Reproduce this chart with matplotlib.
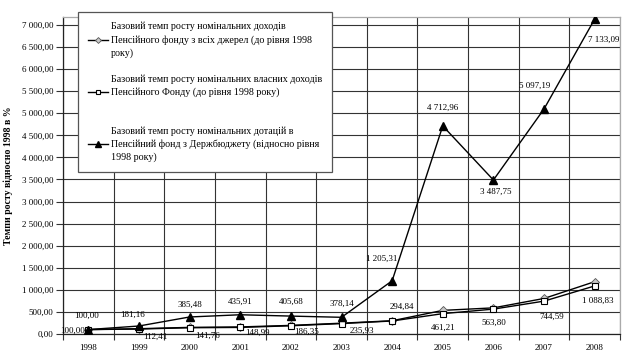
import matplotlib
matplotlib.use('Agg')
import matplotlib.pyplot as plt
from matplotlib.ticker import FuncFormatter, FixedLocator

plt.rcParams['font.family'] = ['Liberation Serif', 'DejaVu Serif']

years = ['1998', '1999', '2000', '2001', '2002', '2003', '2004', '2005', '2006', '2007', '2008']
# all sources (diamonds), own income (squares), state budget subsidies (triangles)
all_sources = [100.00, 120.0, 150.0, 160.0, 195.0, 245.0, 300.0, 535.0, 592.0, 805.0, 1185.0]
own_income = [100.00, 112.41, 141.76, 148.99, 186.35, 235.93, 294.84, 461.21, 563.80, 744.59, 1088.83]
subsidies = [100.00, 181.16, 385.48, 435.91, 405.68, 378.14, 1205.31, 4712.96, 3487.75, 5097.19, 7133.09]

legend_labels = [
    'Базовий темп росту номінальних доходів\nПенсійного фонду з всіх джерел (до рівня 1998\nроку)',
    'Базовий темп росту номінальних власних доходів\nПенсійного Фонду (до рівня 1998 року)\n',
    'Базовий темп росту номінальних дотацій в\nПенсійний фонд з Держбюджету (відносно рівня\n1998 року)',
]
y_label = 'Темпи росту відносно 1998 в %'

# label offsets in pixels (dx, dy, ha)
own_offsets = [(-2, 14, 'center'), (16, -8, 'center'), (18, -8, 'center'), (17, -5, 'center'),
               (16, -6, 'center'), (20, -7, 'center'), (10, 14, 'center'), (0, -14, 'center'),
               (0, -14, 'center'), (8, -16, 'center'), (3, -15, 'center')]
sub_offsets = [(-3, -1, 'right'), (-6, 11, 'center'), (0, 12, 'center'), (0, 13, 'center'),
               (0, 14, 'center'), (0, 13, 'center'), (-10, 22, 'center'), (0, 18, 'center'),
               (2, -12, 'center'), (-9, 23, 'center'), (-7, -21, 'left')]


def fmt(v):
    return '{:,.2f}'.format(v).replace(',', ' ').replace('.', ',')


fig = plt.figure(figsize=(6.28, 3.63), dpi=100)
ax = fig.add_axes([63 / 628, 29 / 363, 557 / 628, 317 / 363])

x = list(range(len(years)))
h1, = ax.plot(x, all_sources, '-', color='black', lw=1.0, marker='D', ms=4,
              mfc='#c8c8c8', mec='#555555', mew=0.6, zorder=3)
h2, = ax.plot(x, own_income, '-', color='black', lw=1.0, marker='s', ms=4.8,
              mfc='white', mec='black', mew=0.8, zorder=4)
h3, = ax.plot(x, subsidies, '-', color='black', lw=1.0, marker='^', ms=5.5,
              mfc='black', mec='black', zorder=5)

for i, v in enumerate(own_income):
    dx, dy, ha = own_offsets[i]
    ax.annotate(fmt(v), (i, v), xytext=(dx, dy), textcoords='offset pixels',
                ha=ha, va='center', fontsize=6.5, zorder=6)
for i, v in enumerate(subsidies):
    dx, dy, ha = sub_offsets[i]
    ax.annotate(fmt(v), (i, v), xytext=(dx, dy), textcoords='offset pixels',
                ha=ha, va='center', fontsize=6.5, zorder=6)

ax.set_xlim(-0.5, len(years) - 0.5)
ax.set_ylim(0, 7180)
ax.set_yticks(range(0, 7001, 500))
ax.yaxis.set_major_formatter(FuncFormatter(lambda v, p: fmt(v)))
ax.set_xticks(x)
ax.set_xticklabels(years)
ax.xaxis.set_minor_locator(FixedLocator([i + 0.5 for i in range(-1, len(years))]))
ax.tick_params(axis='x', which='major', length=0, pad=7, labelsize=6.5)
ax.tick_params(axis='x', which='minor', length=4, width=0.8, color='#333333')
ax.tick_params(axis='y', length=5, width=0.8, color='#333333', labelsize=6.5, pad=2)

ax.grid(True, axis='y', which='major', color='#333333', lw=0.8)
ax.grid(True, axis='x', which='minor', color='#333333', lw=0.8)
ax.set_axisbelow(True)
for s in ['left', 'bottom']:
    ax.spines[s].set_color('#222222')
    ax.spines[s].set_linewidth(0.9)
for s in ['top', 'right']:
    ax.spines[s].set_color('#aaaaaa')
    ax.spines[s].set_linewidth(0.9)

ax.set_ylabel(y_label, fontsize=7, fontweight='bold', labelpad=6)

leg = ax.legend([h1, h2, h3], legend_labels, loc='upper left',
                bbox_to_anchor=(78 / 628, 1 - 12 / 363), bbox_transform=fig.transFigure,
                fontsize=7.2, frameon=True, fancybox=False, framealpha=1,
                edgecolor='#555555', handlelength=2.0, handletextpad=0.3,
                labelspacing=1.7, borderpad=1.0, borderaxespad=0, markerscale=0.75)
for t in leg.get_texts():
    t.set_linespacing(1.45)
leg.get_frame().set_linewidth(0.9)
leg.set_zorder(10)

fig.savefig('out.png', dpi=100)
